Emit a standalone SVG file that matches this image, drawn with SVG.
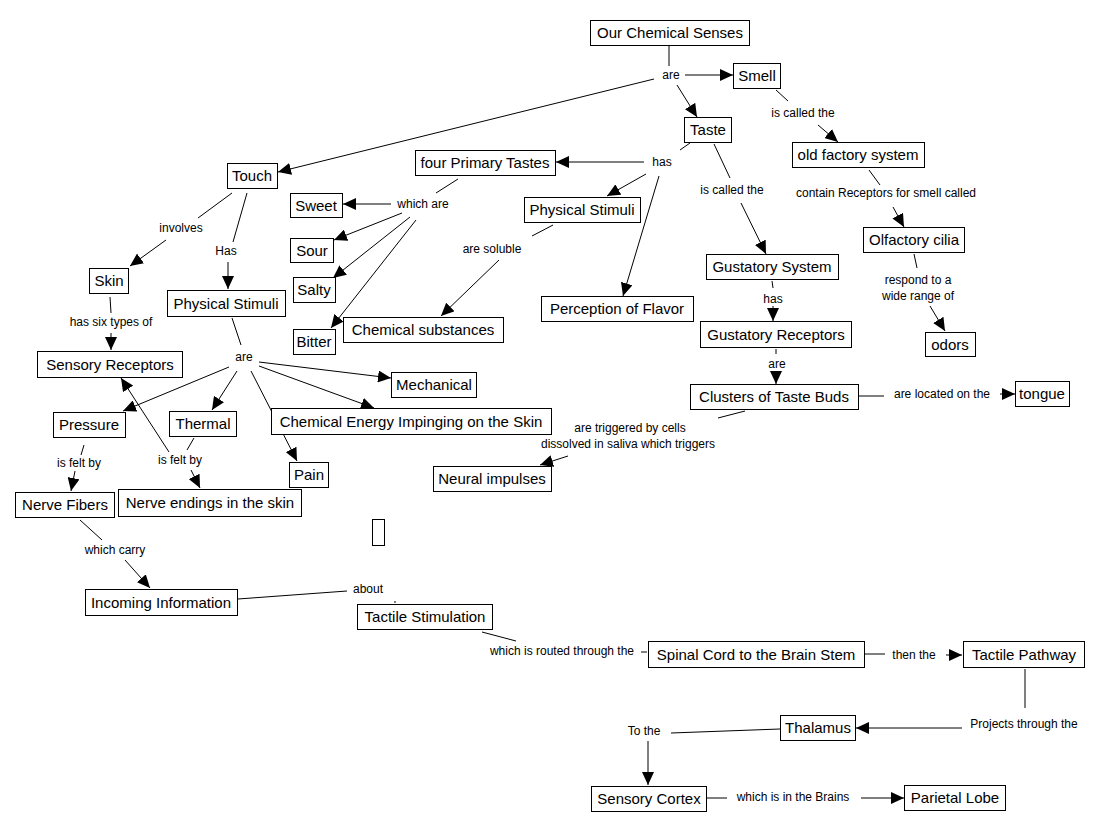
<svg xmlns="http://www.w3.org/2000/svg" width="1104" height="831" viewBox="0 0 1104 831">
<style>
.n rect{fill:#fff;stroke:#000;stroke-width:1}
.n text{font-family:"Liberation Sans",Arial,sans-serif;font-size:15px;fill:#000;text-anchor:middle}
.l{font-family:"Liberation Sans",Arial,sans-serif;font-size:12px;fill:#000;text-anchor:middle}
#connectors line{stroke:#000;stroke-width:1}
#connectors .a{marker-end:url(#ah)}
</style>
<defs>
<marker id="ah" markerUnits="userSpaceOnUse" markerWidth="14" markerHeight="12" refX="13" refY="6" orient="auto">
<path d="M0,0 L13,6 L0,12 Z" fill="#000"/>
</marker>
</defs>
<rect width="1104" height="831" fill="#fff"/>
<g id="connectors">
<line x1="669" y1="45" x2="669" y2="66"/>
<line class="a" x1="685" y1="75" x2="733" y2="75"/>
<line class="a" x1="677" y1="85" x2="697" y2="117"/>
<line class="a" x1="654" y1="79" x2="278" y2="172"/>
<line x1="776" y1="90" x2="788" y2="101"/>
<line class="a" x1="818" y1="125" x2="838" y2="142"/>
<line x1="690" y1="143" x2="680" y2="150"/>
<line class="a" x1="644" y1="162" x2="556" y2="162"/>
<line class="a" x1="646" y1="174" x2="607" y2="196"/>
<line class="a" x1="659" y1="176" x2="623" y2="296"/>
<line x1="714" y1="144" x2="730" y2="178"/>
<line class="a" x1="741" y1="203" x2="766" y2="254"/>
<line x1="869" y1="170" x2="880" y2="185"/>
<line class="a" x1="893" y1="207" x2="904" y2="227"/>
<line x1="914" y1="254" x2="917" y2="268"/>
<line class="a" x1="930" y1="306" x2="945" y2="331"/>
<line x1="772" y1="281" x2="773" y2="288"/>
<line class="a" x1="773" y1="306" x2="773" y2="321"/>
<line x1="776" y1="349" x2="776" y2="354"/>
<line class="a" x1="776" y1="372" x2="776" y2="384"/>
<line x1="858" y1="396" x2="884" y2="396"/>
<line class="a" x1="1000" y1="394" x2="1015" y2="394"/>
<line x1="745" y1="411" x2="718" y2="418"/>
<line class="a" x1="568" y1="456" x2="540" y2="465"/>
<line x1="458" y1="179" x2="436" y2="193"/>
<line class="a" x1="391" y1="204" x2="343" y2="204"/>
<line class="a" x1="402" y1="213" x2="334" y2="240"/>
<line class="a" x1="410" y1="217" x2="333" y2="278"/>
<line class="a" x1="416" y1="220" x2="331" y2="328"/>
<line x1="553" y1="225" x2="532" y2="236"/>
<line class="a" x1="499" y1="260" x2="441" y2="316"/>
<line x1="232" y1="193" x2="198" y2="218"/>
<line class="a" x1="166" y1="240" x2="130" y2="266"/>
<line x1="247" y1="193" x2="233" y2="242"/>
<line class="a" x1="228" y1="262" x2="228" y2="289"/>
<line x1="110" y1="297" x2="111" y2="313"/>
<line class="a" x1="111" y1="333" x2="111" y2="350"/>
<line x1="232" y1="318" x2="241" y2="345"/>
<line class="a" x1="259" y1="362" x2="391" y2="378"/>
<line class="a" x1="259" y1="366" x2="374" y2="408"/>
<line class="a" x1="251" y1="371" x2="297" y2="461"/>
<line class="a" x1="237" y1="371" x2="212" y2="410"/>
<line class="a" x1="229" y1="367" x2="123" y2="411"/>
<line x1="84" y1="445" x2="81" y2="455"/>
<line class="a" x1="75" y1="471" x2="71" y2="491"/>
<line x1="194" y1="438" x2="187" y2="450"/>
<line class="a" x1="191" y1="470" x2="200" y2="488"/>
<line class="a" x1="169" y1="452" x2="121" y2="378"/>
<line x1="80" y1="520" x2="102" y2="540"/>
<line class="a" x1="125" y1="560" x2="150" y2="588"/>
<line x1="238" y1="599" x2="347" y2="591"/>
<line x1="394" y1="602" x2="396" y2="602"/>
<line x1="482" y1="632" x2="516" y2="641"/>
<line x1="641" y1="652" x2="647" y2="652"/>
<line x1="864" y1="654" x2="885" y2="654"/>
<line class="a" x1="946" y1="655" x2="962" y2="655"/>
<line x1="1025" y1="669" x2="1025" y2="708"/>
<line class="a" x1="962" y1="728" x2="856" y2="728"/>
<line x1="780" y1="729" x2="671" y2="733"/>
<line class="a" x1="648" y1="741" x2="648" y2="785"/>
<line x1="706" y1="798" x2="727" y2="798"/>
<line class="a" x1="861" y1="798" x2="904" y2="798"/>
</g>
<g id="labels">
<text class="l" x="671" y="79">are</text>
<text class="l" x="803" y="117">is called the</text>
<text class="l" x="662" y="166">has</text>
<text class="l" x="732" y="194">is called the</text>
<text class="l" x="886" y="197">contain Receptors for smell called</text>
<text class="l" x="918" y="284">respond to a</text>
<text class="l" x="918" y="300">wide range of</text>
<text class="l" x="773" y="303">has</text>
<text class="l" x="777" y="368">are</text>
<text class="l" x="942" y="398">are located on the</text>
<text class="l" x="630" y="432">are triggered by cells</text>
<text class="l" x="628" y="448">dissolved in saliva which triggers</text>
<text class="l" x="423" y="208">which are</text>
<text class="l" x="492" y="253">are soluble</text>
<text class="l" x="181" y="232">involves</text>
<text class="l" x="226" y="255">Has</text>
<text class="l" x="111" y="326">has six types of</text>
<text class="l" x="244" y="361">are</text>
<text class="l" x="79" y="467">is felt by</text>
<text class="l" x="180" y="464">is felt by</text>
<text class="l" x="115" y="554">which carry</text>
<text class="l" x="368" y="593">about</text>
<text class="l" x="562" y="655">which is routed through the</text>
<text class="l" x="914" y="659">then the</text>
<text class="l" x="1024" y="728">Projects through the</text>
<text class="l" x="644" y="735">To the</text>
<text class="l" x="793" y="801">which is in the Brains</text>
</g>
<g id="n1" class="n"><rect x="590.5" y="20.5" width="159" height="25"/><text x="670" y="38">Our Chemical Senses</text></g>
<g id="n2" class="n"><rect x="733.5" y="63.5" width="47" height="25"/><text x="757" y="81">Smell</text></g>
<g id="n3" class="n"><rect x="684.5" y="117.5" width="47" height="25"/><text x="708" y="135">Taste</text></g>
<g id="n4" class="n"><rect x="792.5" y="142.5" width="132" height="25"/><text x="858" y="160">old factory system</text></g>
<g id="n5" class="n"><rect x="863.5" y="227.5" width="101" height="25"/><text x="914" y="245">Olfactory cilia</text></g>
<g id="n6" class="n"><rect x="925.5" y="332.5" width="50" height="24"/><text x="950" y="350">odors</text></g>
<g id="n7" class="n"><rect x="227.5" y="163.5" width="50" height="25"/><text x="252" y="181">Touch</text></g>
<g id="n8" class="n"><rect x="415.5" y="150.5" width="140" height="25"/><text x="485" y="168">four Primary Tastes</text></g>
<g id="n9" class="n"><rect x="290.5" y="193.5" width="52" height="24"/><text x="316" y="211">Sweet</text></g>
<g id="n10" class="n"><rect x="290.5" y="238.5" width="43" height="24"/><text x="312" y="256">Sour</text></g>
<g id="n11" class="n"><rect x="293.5" y="277.5" width="42" height="25"/><text x="314" y="295">Salty</text></g>
<g id="n12" class="n"><rect x="293.5" y="329.5" width="42" height="25"/><text x="314" y="347">Bitter</text></g>
<g id="n13" class="n"><rect x="524.5" y="197.5" width="116" height="25"/><text x="582" y="215">Physical Stimuli</text></g>
<g id="n14" class="n"><rect x="343.5" y="317.5" width="160" height="25"/><text x="423" y="335">Chemical substances</text></g>
<g id="n15" class="n"><rect x="541.5" y="296.5" width="152" height="25"/><text x="617" y="314">Perception of Flavor</text></g>
<g id="n16" class="n"><rect x="706.5" y="254.5" width="132" height="25"/><text x="772" y="272">Gustatory System</text></g>
<g id="n17" class="n"><rect x="700.5" y="321.5" width="151" height="26"/><text x="776" y="340">Gustatory Receptors</text></g>
<g id="n18" class="n"><rect x="690.5" y="384.5" width="168" height="25"/><text x="774" y="402">Clusters of Taste Buds</text></g>
<g id="n19" class="n"><rect x="1015.5" y="381.5" width="54" height="25"/><text x="1042" y="399">tongue</text></g>
<g id="n20" class="n"><rect x="89.5" y="268.5" width="39" height="25"/><text x="109" y="286">Skin</text></g>
<g id="n21" class="n"><rect x="167.5" y="290.5" width="118" height="26"/><text x="226" y="309">Physical Stimuli</text></g>
<g id="n22" class="n"><rect x="37.5" y="351.5" width="145" height="26"/><text x="110" y="370">Sensory Receptors</text></g>
<g id="n23" class="n"><rect x="391.5" y="372.5" width="85" height="25"/><text x="434" y="390">Mechanical</text></g>
<g id="n24" class="n"><rect x="53.5" y="412.5" width="72" height="25"/><text x="89" y="430">Pressure</text></g>
<g id="n25" class="n"><rect x="169.5" y="411.5" width="67" height="25"/><text x="203" y="429">Thermal</text></g>
<g id="n26" class="n"><rect x="271.5" y="408.5" width="280" height="26"/><text x="411" y="427">Chemical Energy Impinging on the Skin</text></g>
<g id="n27" class="n"><rect x="289.5" y="462.5" width="39" height="25"/><text x="309" y="480">Pain</text></g>
<g id="n28" class="n"><rect x="433.5" y="466.5" width="118" height="25"/><text x="492" y="484">Neural impulses</text></g>
<g id="n29" class="n"><rect x="15.5" y="492.5" width="99" height="25"/><text x="65" y="510">Nerve Fibers</text></g>
<g id="n30" class="n"><rect x="118.5" y="489.5" width="183" height="27"/><text x="210" y="508">Nerve endings in the skin</text></g>
<g id="n31" class="n"><rect x="372.5" y="519.5" width="12" height="26"/></g>
<g id="n32" class="n"><rect x="85.5" y="589.5" width="152" height="26"/><text x="161" y="608">Incoming Information</text></g>
<g id="n33" class="n"><rect x="357.5" y="604.5" width="135" height="25"/><text x="425" y="622">Tactile Stimulation</text></g>
<g id="n34" class="n"><rect x="648.5" y="641.5" width="216" height="26"/><text x="756" y="660">Spinal Cord to the Brain Stem</text></g>
<g id="n35" class="n"><rect x="963.5" y="641.5" width="121" height="26"/><text x="1024" y="660">Tactile Pathway</text></g>
<g id="n36" class="n"><rect x="780.5" y="715.5" width="75" height="25"/><text x="818" y="733">Thalamus</text></g>
<g id="n37" class="n"><rect x="591.5" y="786.5" width="115" height="25"/><text x="649" y="804">Sensory Cortex</text></g>
<g id="n38" class="n"><rect x="904.5" y="785.5" width="101" height="25"/><text x="955" y="803">Parietal Lobe</text></g>
</svg>
